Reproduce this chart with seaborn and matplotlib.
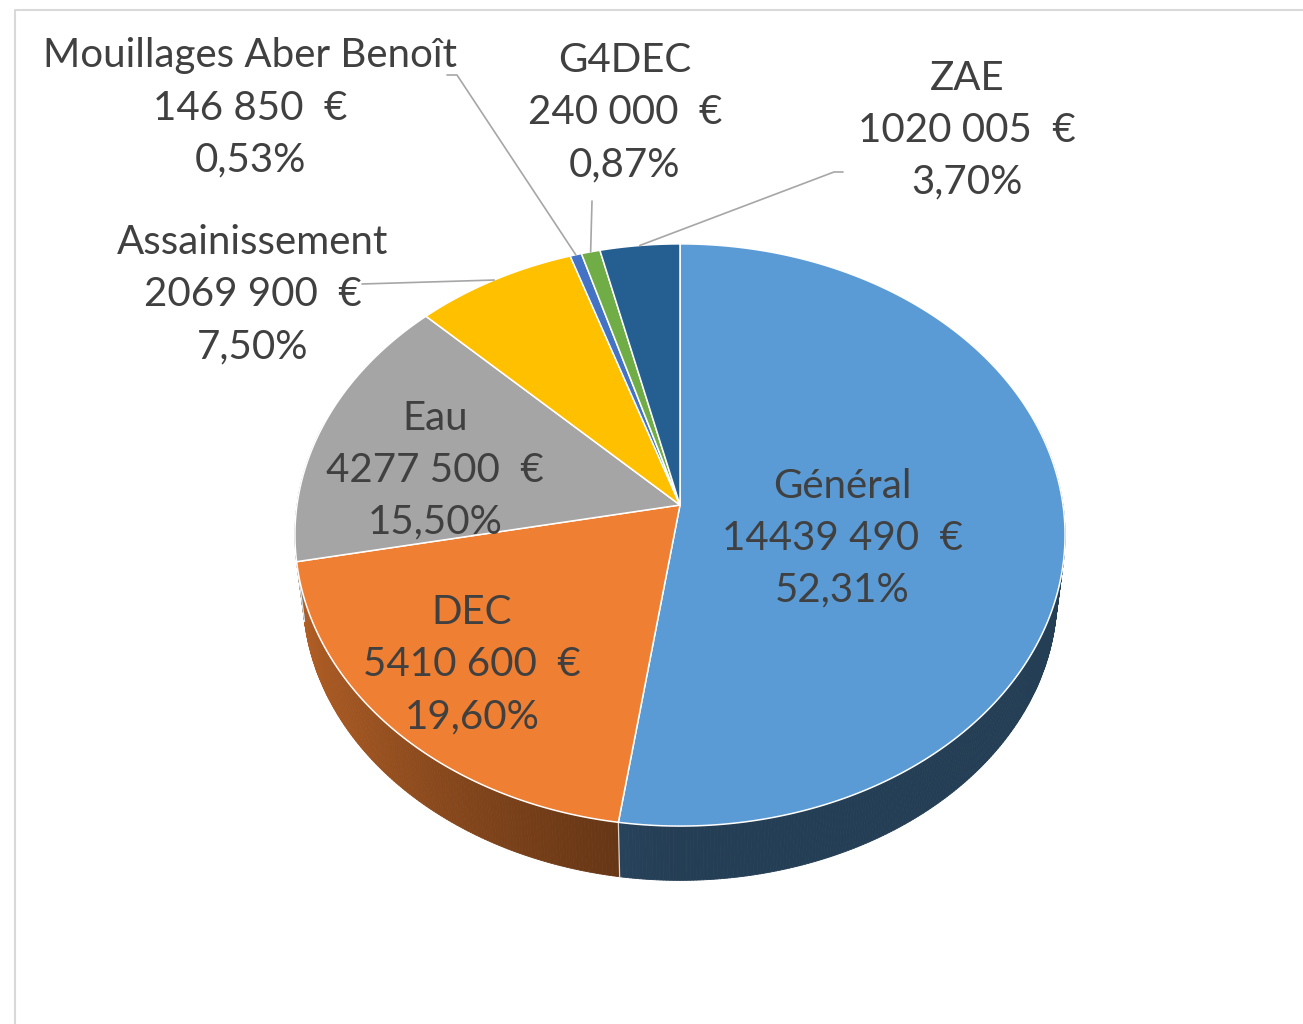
import numpy as np
import matplotlib.pyplot as plt
import seaborn as sns
from matplotlib.collections import PolyCollection

# Budget split (euros)
categories = ["Général", "DEC", "Eau", "Assainissement",
              "Mouillages Aber Benoît", "G4DEC", "ZAE"]
amounts = [14439490, 5410600, 4277500, 2069900, 146850, 240000, 1020005]
colors = ["#5B9BD5", "#EF7F32", "#A5A5A5", "#FFC000",
          "#4472C4", "#70AD47", "#255E91"]

sns.set_theme(style="white")
plt.rcParams['font.family'] = ['Lato', 'DejaVu Sans']
palette = sns.color_palette(colors)

# 3D pie geometry, in pixels of the 1303x1024 canvas
CX = 680
TOP_Y0, TOP_A, TOP_B = 505, 288, 383
BOT_Y0, BOT_A, BOT_B = 566, 282, 375
K = 0.103  # perspective

# label centres (middle line) and leader line starts
label_pos = [(842, 538), (472, 665), (435, 470), (253, 295),
             (250, 108), (625, 113), (967, 130)]
leader_start = {3: [(362, 284)], 4: [(447, 75), (457, 75)],
                5: [(592, 201)], 6: [(843, 172), (834, 172)]}
LINE_GAP = 52
TEXT_COLOR = "#404040"


def rim(theta, y0, a, b):
    x = np.sin(theta)
    z = np.cos(theta)
    d = 1 + K * z
    return CX + b * x / d, y0 - a * z / d


def shade(theta):
    return 0.40 + 0.35 * np.clip(-np.sin(theta), 0, None) ** 1.3


values = np.array(amounts, dtype=float)
frac = values / values.sum()
edges = np.concatenate([[0], np.cumsum(frac)]) * 2 * np.pi

fig = plt.figure(figsize=(13.03, 10.24), dpi=100)
ax = fig.add_axes([0, 0, 1, 1])
ax.set_xlim(0, 1303)
ax.set_ylim(1024, 0)
ax.axis('off')

# side of the pie (only the front half shows)
polys, fcols = [], []
for i, (t0, t1) in enumerate(zip(edges[:-1], edges[1:])):
    lo, hi = max(t0, np.pi / 2 - 0.3), min(t1, 1.5 * np.pi + 0.3)
    if hi <= lo:
        continue
    ts = np.linspace(lo, hi, max(2, int((hi - lo) / 0.008)))
    for a, b in zip(ts[:-1], ts[1:]):
        xa, ya = rim(a, TOP_Y0, TOP_A, TOP_B)
        xb, yb = rim(b, TOP_Y0, TOP_A, TOP_B)
        xc, yc = rim(b, BOT_Y0, BOT_A, BOT_B)
        xd, yd = rim(a, BOT_Y0, BOT_A, BOT_B)
        polys.append([(xa, ya), (xb, yb), (xc, yc), (xd, yd)])
        f = shade((a + b) / 2)
        fcols.append(tuple(np.array(palette[i]) * f))
ax.add_collection(PolyCollection(polys, facecolors=fcols, edgecolors=fcols,
                                 linewidths=0.6, zorder=1))

# separators on the side
for t in edges[1:-1]:
    if np.pi / 2 < t < 1.5 * np.pi:
        xa, ya = rim(t, TOP_Y0, TOP_A, TOP_B)
        xd, yd = rim(t, BOT_Y0, BOT_A, BOT_B)
        ax.plot([xa, xd], [ya, yd], color="white", lw=0.9, alpha=0.8, zorder=2)

# top faces
for i, (t0, t1) in enumerate(zip(edges[:-1], edges[1:])):
    ts = np.linspace(t0, t1, max(3, int((t1 - t0) / 0.005)))
    xs, ys = rim(ts, TOP_Y0, TOP_A, TOP_B)
    ax.fill(np.r_[CX, xs], np.r_[TOP_Y0, ys], facecolor=palette[i],
            edgecolor="white", lw=1.1, zorder=3)

# leader lines
for i, pts in leader_start.items():
    tm = (edges[i] + edges[i + 1]) / 2
    ex, ey = rim(tm, TOP_Y0, TOP_A, TOP_B)
    xs = [p[0] for p in pts] + [ex]
    ys = [p[1] for p in pts] + [ey]
    ax.plot(xs, ys, color="#A6A6A6", lw=1.2, zorder=4)

# data labels
for i, name in enumerate(categories):
    v = amounts[i]
    money = f"{v // 1000} {v % 1000:03d}  €"
    pct = f"{frac[i] * 100:.2f}%".replace(".", ",")
    x, y = label_pos[i]
    for j, line in enumerate([name, money, pct]):
        ax.text(x, y + (j - 1) * LINE_GAP, line, ha="center", va="center",
                fontsize=29, color=TEXT_COLOR, zorder=5)

# chart area frame
ax.plot([15, 15, 1303], [1024, 10, 10], color="#D9D9D9", lw=1.5, zorder=6)

fig.savefig("out.png", dpi=100, facecolor="white")
